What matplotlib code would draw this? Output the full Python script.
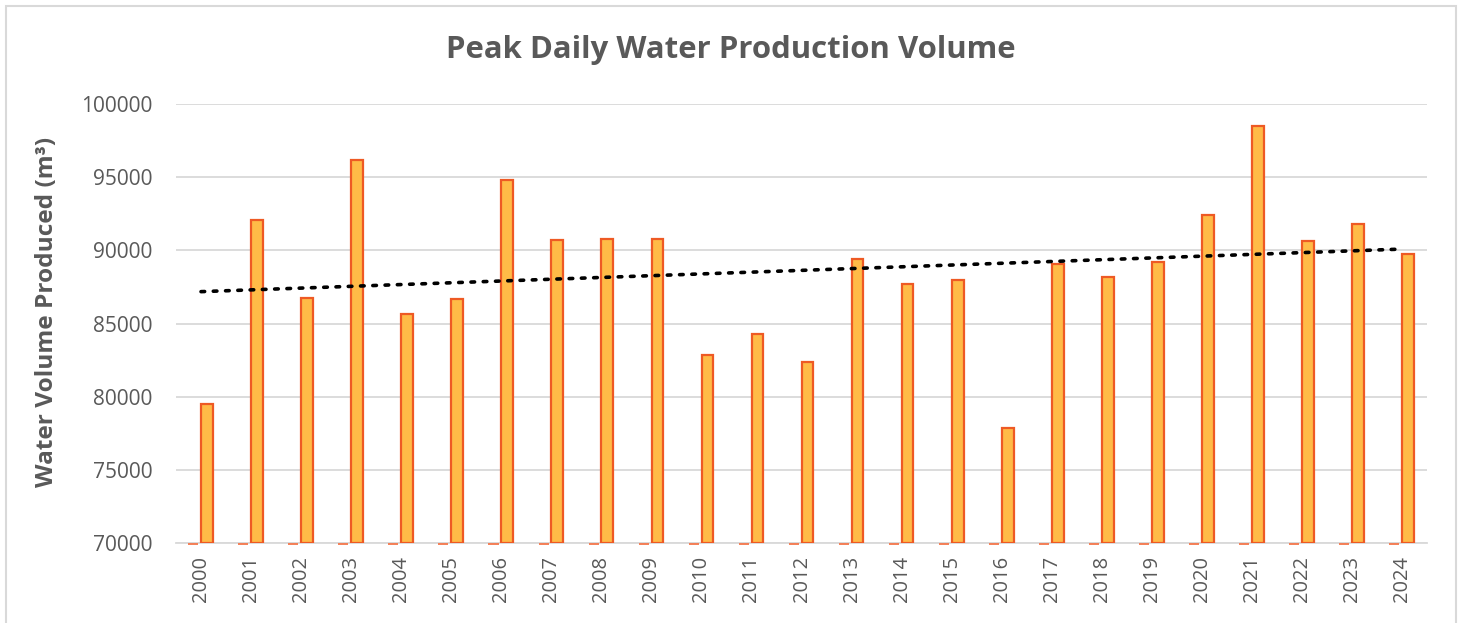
import matplotlib
matplotlib.use("Agg")
import matplotlib.pyplot as plt
import numpy as np
from matplotlib.patches import Rectangle

years = [str(y) for y in range(2000, 2025)]
baseline_series = [70000] * 25
peak_volume = [79520, 92070, 86780, 96180, 85640, 86710, 94840, 90700, 90800, 90780,
               82850, 84270, 82350, 89400, 87710, 87950, 77880, 89060, 88190, 89200,
               92400, 98510, 90640, 91800, 89750]
yticks = [70000, 75000, 80000, 85000, 90000, 95000, 100000]

W, H = 1462, 623
fig = plt.figure(figsize=(W / 100, H / 100), dpi=100)
fig.patch.set_facecolor("white")
plt.rcParams['font.family'] = ['Open Sans', 'DejaVu Sans']

ax = fig.add_axes([176 / W, (H - 543.3) / H, (1427 - 176) / W, (543.3 - 104) / H])
x = np.arange(len(years))

grey = "#595959"
ax.set_ylim(70000, 100000)
ax.set_xlim(-0.5, len(years) - 0.5)
ax.set_yticks(yticks)
ax.yaxis.grid(True, color="#D9D9D9", linewidth=1.3, zorder=0)
ax.set_axisbelow(True)
for s in ["top", "right", "left"]:
    ax.spines[s].set_visible(False)
ax.spines["bottom"].set_color("#D9D9D9")
ax.spines["bottom"].set_linewidth(1.3)

# baseline series (appears as thin dashes at axis minimum)
base_bars = ax.bar(x - 0.155, np.array(baseline_series) - 70000, bottom=69960, width=0.2,
                   color="#F4764A", edgecolor="#F4764A", linewidth=1.3, zorder=3)
for b in base_bars:
    b.set_clip_on(False)
# main series
ax.bar(x + 0.12, np.array(peak_volume) - 70000, bottom=70000, width=0.235,
       color="#FFBB47", edgecolor="#EE5A24", linewidth=1.6, zorder=3)

# linear trendline
coef = np.polyfit(x, peak_volume, 1)
ax.plot(x, np.polyval(coef, x), linestyle=(0, (1, 2.4)), color="black",
        linewidth=2.6, dash_capstyle="round", zorder=4)

ax.set_xticks(x)
ax.set_xticklabels(years, rotation=90, fontsize=14.5, color=grey)
ax.tick_params(axis="x", length=0, pad=9)
ax.tick_params(axis="y", length=0, pad=17, labelsize=15, labelcolor=grey)

fig.text(47 / W, (H - 312) / H, "Water Volume Produced (m³)", rotation=90,
         ha="center", va="center", fontsize=17.6, fontweight="bold", color=grey)
fig.text(731 / W, (H - 50) / H, "Peak Daily Water Production Volume",
         ha="center", va="center", fontsize=22.4, fontweight="bold", color=grey)

# chart border
fig.patches.append(Rectangle((6 / W, -0.05), (1456 - 6) / W, 1.05 - 6 / H,
                             transform=fig.transFigure, fill=False,
                             edgecolor="#D9D9D9", linewidth=1.5))

fig.savefig("out.png", dpi=100)
